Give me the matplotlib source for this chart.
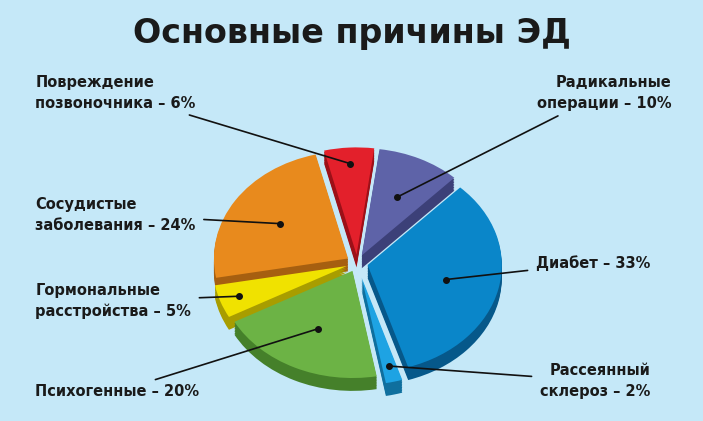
import matplotlib
matplotlib.use("Agg")
import matplotlib.pyplot as plt
import numpy as np

plt.rcParams['font.family'] = ["DejaVu Sans"]

labels = ["Повреждение\nпозвоночника – 6%", "Радикальные\nоперации – 10%", "Диабет – 33%",
          "Рассеянный\nсклероз – 2%", "Психогенные – 20%", "Гормональные\nрасстройства – 5%",
          "Сосудистые\nзаболевания – 24%"]
values = [6, 10, 33, 2, 20, 5, 24]
colors = ["#e3202b", "#5e63a8", "#0a86c9", "#1ea3e3", "#6cb345", "#f0e200", "#e88a1d"]
dark = ["#9c1018", "#3c4078", "#06588a", "#0f6f9e", "#45802a", "#a89d00", "#a65f10"]
text_pos = [(0.05, 0.78, "left"), (0.955, 0.78, "right"), (0.925, 0.375, "right"),
            (0.925, 0.095, "right"), (0.05, 0.07, "left"), (0.05, 0.285, "left"),
            (0.05, 0.49, "left")]

fig = plt.figure(figsize=(7.03, 4.21), dpi=100)
fig.patch.set_facecolor("#c5e8f8")
fig.text(0.5, 0.92, "Основные причины ЭД", ha="center", va="center",
         fontsize=24, fontweight="bold", color="#1a1a1a")
ax = fig.add_axes([0.298, 0.095, 0.42, 0.56])
ax.set_facecolor("none")
explode = [0.08, 0.08, 0.08, 0.14, 0.08, 0.08, 0.08]
start = 104
for k in range(8, 0, -1):
    ax.pie(values, colors=dark, startangle=start, counterclock=False, explode=explode,
           center=(0, -0.015 * k), wedgeprops=dict(linewidth=0))
wedges, _ = ax.pie(values, colors=colors, startangle=start, counterclock=False,
                   explode=explode, wedgeprops=dict(linewidth=0))
ax.set_aspect("auto")
ax.set_xlim(-1.1, 1.1)
ax.set_ylim(-1.1, 1.1)
ax.axis("off")
for w, v, lab, (tx, ty, ha) in zip(wedges, values, labels, text_pos):
    mid = np.deg2rad((w.theta1 + w.theta2) / 2)
    cx, cy = w.center
    fr = 0.85 if v < 7 else 0.6
    px, py = cx + fr * np.cos(mid), cy + fr * np.sin(mid)
    ax.plot(px, py, "o", color="#111111", ms=4, zorder=5)
    ax.annotate(lab, xy=(px, py), xycoords="data", xytext=(tx, ty),
                textcoords="figure fraction", ha=ha, va="center", fontsize=10.5,
                fontweight="bold", color="#1a1a1a", linespacing=1.5,
                arrowprops=dict(arrowstyle="-", color="#111111", lw=1.2,
                                shrinkA=4, shrinkB=0))
fig.savefig("out.png", dpi=100, facecolor=fig.get_facecolor())
